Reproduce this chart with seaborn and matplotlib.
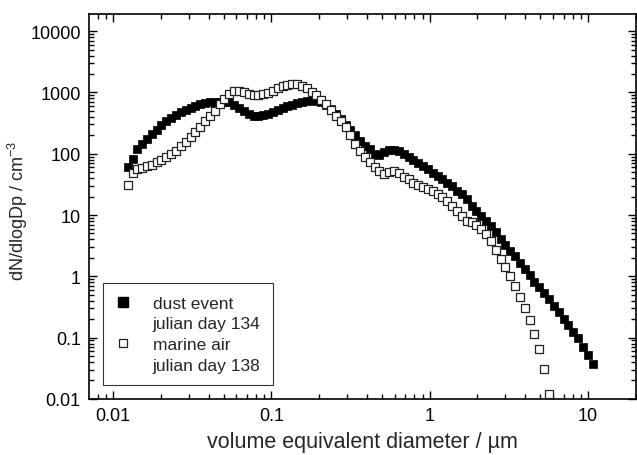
import numpy as np
import pandas as pd
import matplotlib
matplotlib.use("Agg")
import matplotlib.pyplot as plt
import seaborn as sns
from matplotlib.lines import Line2D
from matplotlib.ticker import LogLocator, FixedLocator, FixedFormatter, NullFormatter

# volume equivalent diameter (um), shared size channels
diameter = [
    0.01233, 0.01324, 0.01419, 0.01524, 0.01634, 0.01754, 0.01883, 0.02018, 0.02168, 0.02323,
    0.02495, 0.02679, 0.02871, 0.03083, 0.03304, 0.03548, 0.03811, 0.04083, 0.04385, 0.04699,
    0.05047, 0.05420, 0.05808, 0.06237, 0.06683, 0.07178, 0.07709, 0.08260, 0.08872, 0.09506,
    0.1021, 0.1096, 0.1175, 0.1262, 0.1352, 0.1452, 0.1560, 0.1671, 0.1795, 0.1923,
    0.2065, 0.2218, 0.2377, 0.2553, 0.2735, 0.2938, 0.3155, 0.3381, 0.3631, 0.3890,
    0.4178, 0.4487, 0.4808, 0.5164, 0.5534, 0.5943, 0.6383, 0.6839, 0.7345, 0.7870,
    0.8453, 0.9078, 0.9727, 1.045, 1.119, 1.202, 1.291, 1.384, 1.486, 1.592,
    1.710, 1.837, 1.968, 2.113, 2.265, 2.432, 2.612, 2.799, 3.006, 3.221,
    3.459, 3.715, 3.981, 4.276, 4.581, 4.920, 5.284, 5.662, 6.081, 6.516,
    6.998, 7.516, 8.054, 8.650, 9.268, 9.954, 10.69,
]

# dust event, julian day 134 (log10 of dN/dlogDp)
dust_log = [
    1.78, 1.91, 2.07, 2.16, 2.24, 2.32, 2.39, 2.47, 2.53, 2.58,
    2.63, 2.68, 2.72, 2.75, 2.78, 2.81, 2.83, 2.845, 2.85, 2.85,
    2.85, 2.84, 2.80, 2.74, 2.69, 2.65, 2.62, 2.62, 2.63, 2.65,
    2.68, 2.71, 2.75, 2.78, 2.80, 2.83, 2.85, 2.865, 2.87, 2.86,
    2.845, 2.80, 2.73, 2.64, 2.56, 2.47, 2.38, 2.30, 2.20, 2.13,
    2.08, 1.99, 1.98, 2.03, 2.06, 2.06, 2.04, 2.00, 1.94, 1.89,
    1.85, 1.80, 1.75, 1.69, 1.63, 1.59, 1.53, 1.48, 1.40, 1.34,
    1.26, 1.14, 1.06, 0.98, 0.90, 0.82, 0.72, 0.61, 0.51, 0.42,
    0.33, 0.22, 0.12, 0.02, -0.09, -0.18, -0.27, -0.37, -0.48, -0.59,
    -0.69, -0.80, -0.91, -1.01, -1.16, -1.29, -1.43,
]

# marine air, julian day 138 (log10 of dN/dlogDp)
marine_log = [
    1.49, 1.68, 1.75, 1.77, 1.80, 1.82, 1.86, 1.90, 1.94, 1.99,
    2.05, 2.12, 2.19, 2.27, 2.35, 2.43, 2.53, 2.62, 2.70, 2.81,
    2.89, 2.98, 3.03, 3.03, 3.00, 2.97, 2.95, 2.95, 2.97, 2.99,
    3.03, 3.07, 3.10, 3.12, 3.14, 3.14, 3.11, 3.07, 3.01, 2.95,
    2.88, 2.81, 2.72, 2.62, 2.53, 2.43, 2.30, 2.16, 2.05, 1.94,
    1.87, 1.79, 1.72, 1.67, 1.70, 1.72, 1.68, 1.62, 1.58, 1.53,
    1.49, 1.45, 1.43, 1.39, 1.35, 1.29, 1.23, 1.15, 1.07, 0.99,
    0.91, 0.88, 0.83, 0.77, 0.69, 0.58, 0.43, 0.28, 0.15, 0.01,
    -0.16, -0.34, -0.51, -0.71, -0.94, -1.18, -1.52, -1.92,
]

y_ticks = [0.01, 0.1, 1, 10, 100, 1000, 10000]
y_ticklabels = ["0.01", "0.1", "1", "10", "100", "1000", "10000"]
x_ticks = [0.01, 0.1, 1, 10]
x_ticklabels = ["0.01", "0.1", "1", "10"]

dust = pd.DataFrame({"d": diameter, "n": np.power(10.0, dust_log)})
marine = pd.DataFrame({"d": diameter[:len(marine_log)], "n": np.power(10.0, marine_log)})

sns.set_style("ticks")
plt.rcParams["font.family"] = ["Liberation Sans", "DejaVu Sans"]
plt.rcParams["mathtext.default"] = "regular"

fig = plt.figure(figsize=(6.37, 4.56), dpi=100)
ax = fig.add_axes([0.140, 0.123, 0.858, 0.844])

sns.scatterplot(data=marine, x="d", y="n", ax=ax, marker="s", s=27,
                facecolor="white", edgecolor="#222222", linewidth=0.9, zorder=3)
sns.scatterplot(data=dust, x="d", y="n", ax=ax, marker="s", s=34,
                color="black", edgecolor="black", linewidth=0.5, zorder=2)

ax.set_xscale("log")
ax.set_yscale("log")
ax.set_xlim(0.00705, 20)
ax.set_ylim(0.01, 19000)

ax.xaxis.set_major_locator(FixedLocator(x_ticks))
ax.xaxis.set_major_formatter(FixedFormatter(x_ticklabels))
ax.yaxis.set_major_locator(FixedLocator(y_ticks))
ax.yaxis.set_major_formatter(FixedFormatter(y_ticklabels))
ax.xaxis.set_minor_locator(LogLocator(base=10, subs=np.arange(2, 10), numticks=20))
ax.yaxis.set_minor_locator(LogLocator(base=10, subs=np.arange(2, 10), numticks=20))
ax.xaxis.set_minor_formatter(NullFormatter())
ax.yaxis.set_minor_formatter(NullFormatter())

ax.tick_params(which="both", direction="in", top=True, right=True,
               labelsize=13, colors="black", width=1.0)
ax.tick_params(which="major", length=6, pad=6)
ax.tick_params(which="minor", length=3.5)
for sp in ax.spines.values():
    sp.set_linewidth(1.2)
    sp.set_color("black")

ax.set_xlabel("volume equivalent diameter / µm", fontsize=15.5, labelpad=5)
ax.set_ylabel("dN/dlogDp / cm$^{-3}$", fontsize=13)
ax.yaxis.set_label_coords(-0.108, 0.49)

blank = Line2D([], [], linestyle="none", marker=None)
handles = [
    Line2D([], [], linestyle="none", marker="s", markersize=6.5,
           markerfacecolor="black", markeredgecolor="black"),
    blank,
    Line2D([], [], linestyle="none", marker="s", markersize=6,
           markerfacecolor="white", markeredgecolor="#222222", markeredgewidth=0.9),
    blank,
]
labels = ["dust event", "julian day 134", "marine air", "julian day 138"]
leg = ax.legend(handles, labels, loc="lower left", bbox_to_anchor=(0.0245, 0.036),
                borderaxespad=0, fontsize=12.5, frameon=True, fancybox=False,
                edgecolor="black", labelspacing=0.32, handlelength=1.0,
                handletextpad=1.2, borderpad=0.7)
leg.get_frame().set_linewidth(0.8)

plt.savefig("out.png", dpi=100)
